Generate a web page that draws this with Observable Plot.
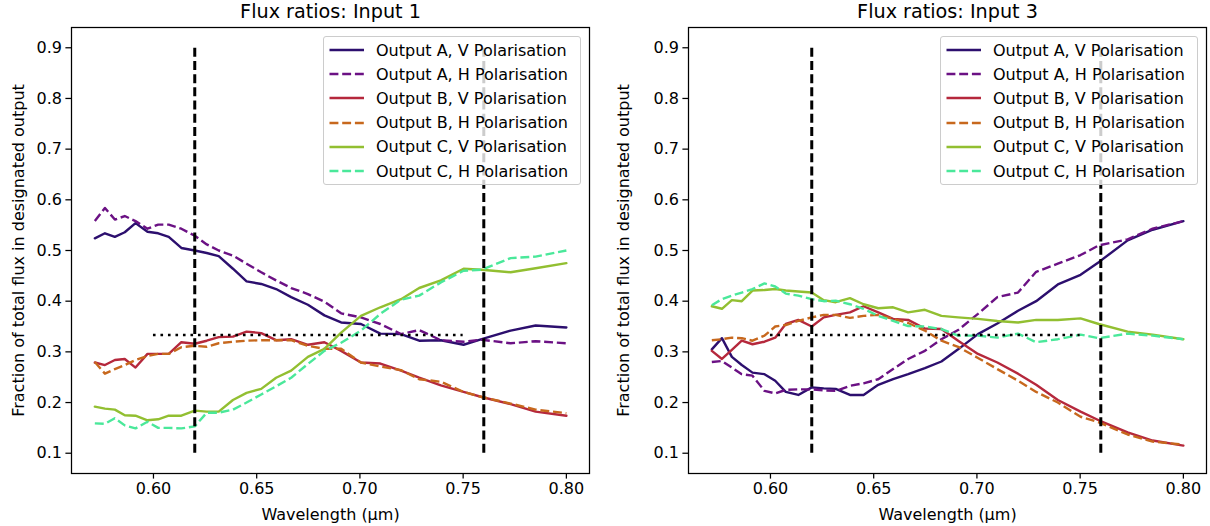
<!DOCTYPE html>
<html>
<head>
<meta charset="utf-8">
<script src="https://cdn.jsdelivr.net/npm/d3@7"></script>
<script src="https://cdn.jsdelivr.net/npm/@observablehq/plot@0.6"></script>
<style>
  html, body { margin: 0; padding: 0; background: #fff; }
  #chart { position: relative; width: 1210px; height: 526px; font-family: "DejaVu Sans", sans-serif; overflow: hidden; }
  .panel { position: absolute; top: 0; }
  .legend { position: absolute; background: rgba(255,255,255,0.8); border: 1px solid #cccccc; border-radius: 3px; box-sizing: border-box; font-size: 16px; color: #000; }
  .legend .row { position: absolute; left: 0; height: 24px; display: flex; align-items: center; white-space: nowrap; }
  .legend svg { display: block; }
</style>
</head>
<body>
<div id="chart"></div>
<script>
// ---- data ----
const wavelength = [0.5716, 0.5765, 0.5813, 0.5861, 0.5913, 0.5971, 0.6023, 0.6074, 0.6135, 0.6200,
  0.6258, 0.6316, 0.6385, 0.6451, 0.6522, 0.6594, 0.6667, 0.6748, 0.6828, 0.6909,
  0.7005, 0.7099, 0.7199, 0.7287, 0.7392, 0.7502, 0.7590, 0.7730, 0.7851, 0.8000];

// Input 1
const in1_AV = [0.524, 0.534, 0.527, 0.536, 0.554, 0.537, 0.534, 0.527, 0.505, 0.500, 0.495, 0.489, 0.464, 0.439, 0.434, 0.424, 0.408, 0.393, 0.372, 0.358, 0.355, 0.336, 0.335, 0.322, 0.323, 0.314, 0.325, 0.342, 0.352, 0.348];
const in1_AH = [0.558, 0.584, 0.561, 0.568, 0.558, 0.543, 0.551, 0.551, 0.543, 0.529, 0.512, 0.500, 0.490, 0.474, 0.457, 0.441, 0.426, 0.414, 0.399, 0.376, 0.368, 0.355, 0.335, 0.343, 0.323, 0.320, 0.324, 0.317, 0.321, 0.317];
const in1_BV = [0.279, 0.274, 0.284, 0.286, 0.269, 0.296, 0.296, 0.296, 0.319, 0.316, 0.322, 0.329, 0.330, 0.340, 0.337, 0.323, 0.325, 0.314, 0.319, 0.302, 0.279, 0.277, 0.263, 0.249, 0.234, 0.221, 0.211, 0.197, 0.182, 0.174];
const in1_BH = [0.280, 0.257, 0.266, 0.274, 0.284, 0.292, 0.296, 0.296, 0.309, 0.312, 0.310, 0.317, 0.320, 0.322, 0.323, 0.323, 0.323, 0.312, 0.306, 0.306, 0.279, 0.271, 0.264, 0.246, 0.241, 0.221, 0.211, 0.198, 0.186, 0.179];
const in1_CV = [0.192, 0.188, 0.186, 0.175, 0.174, 0.165, 0.167, 0.174, 0.174, 0.184, 0.182, 0.182, 0.205, 0.219, 0.227, 0.249, 0.263, 0.290, 0.306, 0.338, 0.371, 0.388, 0.404, 0.426, 0.441, 0.464, 0.462, 0.457, 0.465, 0.475];
const in1_CH = [0.159, 0.158, 0.169, 0.155, 0.149, 0.162, 0.150, 0.150, 0.149, 0.153, 0.180, 0.180, 0.186, 0.200, 0.216, 0.232, 0.249, 0.276, 0.302, 0.318, 0.342, 0.375, 0.403, 0.411, 0.437, 0.460, 0.462, 0.485, 0.488, 0.500];

// Input 3
const in3_AV = [0.305, 0.327, 0.290, 0.274, 0.259, 0.256, 0.243, 0.221, 0.215, 0.230, 0.228, 0.227, 0.215, 0.215, 0.235, 0.246, 0.256, 0.268, 0.281, 0.305, 0.335, 0.356, 0.381, 0.400, 0.433, 0.452, 0.477, 0.520, 0.541, 0.558];
const in3_AH = [0.280, 0.282, 0.269, 0.256, 0.253, 0.223, 0.218, 0.225, 0.226, 0.226, 0.224, 0.223, 0.233, 0.238, 0.246, 0.266, 0.286, 0.302, 0.325, 0.343, 0.375, 0.408, 0.417, 0.458, 0.474, 0.491, 0.510, 0.522, 0.543, 0.558];
const in3_BV = [0.302, 0.286, 0.304, 0.322, 0.315, 0.320, 0.328, 0.355, 0.363, 0.350, 0.368, 0.373, 0.378, 0.390, 0.378, 0.365, 0.363, 0.346, 0.345, 0.322, 0.296, 0.279, 0.257, 0.235, 0.205, 0.182, 0.165, 0.141, 0.125, 0.115];
const in3_BH = [0.323, 0.325, 0.328, 0.327, 0.322, 0.332, 0.350, 0.353, 0.361, 0.368, 0.373, 0.373, 0.367, 0.371, 0.373, 0.365, 0.357, 0.342, 0.322, 0.310, 0.288, 0.266, 0.243, 0.221, 0.200, 0.172, 0.161, 0.137, 0.123, 0.117];
const in3_CV = [0.390, 0.385, 0.402, 0.400, 0.421, 0.422, 0.424, 0.421, 0.419, 0.417, 0.402, 0.398, 0.406, 0.394, 0.386, 0.388, 0.378, 0.383, 0.371, 0.368, 0.365, 0.361, 0.358, 0.363, 0.363, 0.366, 0.355, 0.340, 0.334, 0.325];
const in3_CH = [0.392, 0.404, 0.411, 0.417, 0.424, 0.435, 0.429, 0.415, 0.411, 0.404, 0.400, 0.401, 0.394, 0.385, 0.371, 0.361, 0.351, 0.350, 0.345, 0.332, 0.332, 0.328, 0.336, 0.319, 0.325, 0.334, 0.327, 0.336, 0.332, 0.325];

const seriesNames = ["Output A, V Polarisation", "Output A, H Polarisation", "Output B, V Polarisation",
                     "Output B, H Polarisation", "Output C, V Polarisation", "Output C, H Polarisation"];
const seriesColors = ["#2c0f6e", "#6b1184", "#b5283c", "#c7681d", "#92bf31", "#4ae89a"];
const seriesDashed = [false, true, false, true, false, true];

const panelTitles = ["Flux ratios: Input 1", "Flux ratios: Input 3"];
const xTicks = [0.60, 0.65, 0.70, 0.75, 0.80];
const yTicks = [0.1, 0.2, 0.3, 0.4, 0.5, 0.6, 0.7, 0.8, 0.9];
const xLimits = [0.5603, 0.8112];
const yLimits = [0.06, 0.94];
const bandEdges = [0.62, 0.76];      // vertical dashed lines
const bandSpan = [0.1, 0.9];         // their vertical extent
const equalShare = [1 / 3];          // dotted reference level
const equalShareSpan = [0.60, 0.75]; // its horizontal extent
const xLabel = "Wavelength (μm)";
const yLabel = "Fraction of total flux in designated output";

// ---- drawing ----
const chart = document.getElementById("chart");
const W = 605, H = 526;
const DASH = "8.9,3.8";

function makePanel(title, series, left, marginLeft, marginRight) {
  const rows = [];
  series.forEach((vals, i) => vals.forEach((v, j) => rows.push({wl: wavelength[j], frac: v, s: i})));
  const marks = [];
  series.forEach((vals, i) => {
    marks.push(Plot.line(rows.filter(r => r.s === i), {
      x: "wl", y: "frac", stroke: seriesColors[i], strokeWidth: 2.4,
      strokeDasharray: seriesDashed[i] ? DASH : null,
      strokeLinecap: seriesDashed[i] ? "butt" : "round", strokeLinejoin: "round"
    }));
  });
  marks.push(Plot.ruleX(bandEdges, {y1: bandSpan[0], y2: bandSpan[1], stroke: "black", strokeWidth: 3, strokeDasharray: "9,4.2", strokeLinecap: "butt"}));
  marks.push(Plot.ruleY(equalShare, {x1: equalShareSpan[0], x2: equalShareSpan[1], stroke: "black", strokeWidth: 2.6, strokeDasharray: "2.6,4.9", strokeLinecap: "butt"}));
  marks.push(Plot.frame({stroke: "black", strokeWidth: 1.25}));
  marks.push(Plot.axisX({ticks: xTicks, tickFormat: d3.format(".2f"), tickSize: 5.6, tickPadding: 4, strokeWidth: 1.25, label: null}));
  marks.push(Plot.axisY({ticks: yTicks, tickFormat: d3.format(".1f"), tickSize: 5.6, tickPadding: 4, strokeWidth: 1.25, label: null}));
  marks.push(Plot.text([title], {frameAnchor: "top", lineAnchor: "middle", textAnchor: "middle", dy: -16, fontSize: 19.2, fill: "black"}));
  marks.push(Plot.text([xLabel], {frameAnchor: "bottom", lineAnchor: "middle", textAnchor: "middle", dy: 41, fontSize: 16, fill: "black"}));
  marks.push(Plot.text([yLabel], {frameAnchor: "left", lineAnchor: "middle", textAnchor: "middle", dx: -(marginLeft - 18), rotate: -90, fontSize: 16, fill: "black"}));

  const svg = Plot.plot({
    width: W, height: H,
    marginLeft, marginRight, marginTop: 27, marginBottom: 53,
    x: {domain: xLimits, ticks: xTicks},
    y: {domain: yLimits, ticks: yTicks},
    style: {fontFamily: "DejaVu Sans", fontSize: "16px", color: "black", background: "white", overflow: "visible"},
    marks
  });
  svg.classList.add("panel");
  svg.style.left = left + "px";
  chart.appendChild(svg);

  // legend (upper right inside the frame)
  const frameRight = left + W - marginRight;
  const lg = document.createElement("div");
  lg.className = "legend";
  const lgW = 258, lgH = 149;
  lg.style.left = (frameRight - 8 - lgW) + "px";
  lg.style.top = (27 + 8.5) + "px";
  lg.style.width = lgW + "px";
  lg.style.height = lgH + "px";
  seriesNames.forEach((name, i) => {
    const row = document.createElement("div");
    row.className = "row";
    row.style.top = (1.5 + 24.2 * i) + "px";
    const ns = "http://www.w3.org/2000/svg";
    const s = document.createElementNS(ns, "svg");
    s.setAttribute("width", 52); s.setAttribute("height", 24);
    const ln = document.createElementNS(ns, "line");
    ln.setAttribute("x1", 5.5); ln.setAttribute("x2", 40); ln.setAttribute("y1", 12); ln.setAttribute("y2", 12);
    ln.setAttribute("stroke", seriesColors[i]); ln.setAttribute("stroke-width", 2.4);
    if (seriesDashed[i]) ln.setAttribute("stroke-dasharray", DASH);
    s.appendChild(ln);
    row.appendChild(s);
    const t = document.createElement("span");
    t.textContent = name;
    row.appendChild(t);
    lg.appendChild(row);
  });
  chart.appendChild(lg);
}

makePanel(panelTitles[0], [in1_AV, in1_AH, in1_BV, in1_BH, in1_CV, in1_CH], 0, 71, 16);
makePanel(panelTitles[1], [in3_AV, in3_AH, in3_BV, in3_BH, in3_CV, in3_CH], 605, 83, 4);
</script>
</body>
</html>
